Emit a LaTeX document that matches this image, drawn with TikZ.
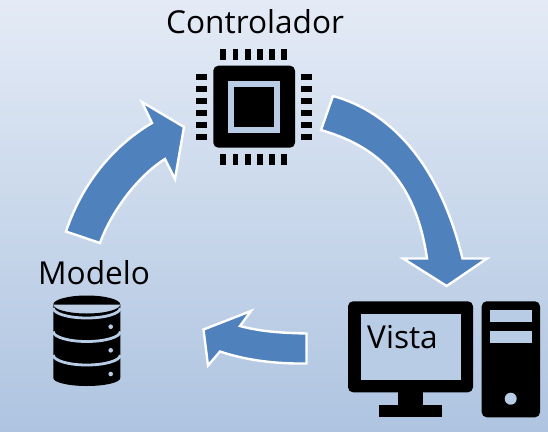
\documentclass[tikz,border=0pt]{standalone}
\usepackage{fontspec}
\setmainfont{Open Sans}
\definecolor{bgtop}{HTML}{E4EBF6}
\definecolor{bgbot}{HTML}{AEC4E0}
\definecolor{arrowblue}{HTML}{4F81BD}
\definecolor{gapc}{HTML}{B9CCE5}
\tikzset{
  bigarrow/.style={fill=arrowblue,draw=white,line width=2.4pt,line join=miter},
  lbl/.style={font=\fontsize{31.6}{38}\selectfont,text=black,inner sep=0pt,anchor=base west},
  blk/.style={fill=black,draw=none},
}
\begin{document}
\begin{tikzpicture}[x=1pt,y=-1pt]
\useasboundingbox (0,0) rectangle (548,431);
\shade[top color=bgtop,bottom color=bgbot,shading angle=0] (0,0) rectangle (548,431);
% arrows
\draw[bigarrow] (66,231.5) .. controls (84,178) and (118,143) .. (152,123) -- (142,102) -- (184,127) -- (175,179) -- (165,159) .. controls (135,178) and (110,215) .. (100,243) -- cycle;
\draw[bigarrow] (333,96) .. controls (392,112) and (440,166) .. (462.5,258.5) -- (487,258.5) -- (446.7,286) -- (403,258.5) -- (427,258.5) .. controls (415,175) and (372,145) .. (321,130) -- cycle;
\draw[bigarrow] (306.5,333.5) .. controls (285,333) and (262,332) .. (240,326) -- (251,311) -- (203.5,329.5) -- (208,365.5) -- (220,351.5) .. controls (245,360) and (275,364) .. (306.5,363.5) -- cycle;
% chip
\fill[blk,rounded corners=5pt] (213.3,65.7) rectangle (295,147.7);
\fill[gapc] (228.3,81) rectangle (280,132.7);
\fill[blk] (234,87.3) rectangle (274,126.7);
\foreach \p in {220.3,232.5,244.7,257,269,281.3}{
  \fill[blk] (\p,49.3) rectangle ++(5.9,10.7);
  \fill[blk] (\p,154) rectangle ++(5.9,10.7);
}
\foreach \p in {73.7,86,98,110,122.3,134.3}{
  \fill[blk] (196.3,\p) rectangle ++(10.7,5.9);
  \fill[blk] (301.3,\p) rectangle ++(10.7,5.9);
}
% monitor
\fill[blk,rounded corners=5pt] (348,301.3) rectangle (473,392.3);
\fill[gapc] (360.7,314) rectangle (460.7,380);
\fill[blk] (398.3,392) rectangle (423.3,405);
\fill[blk] (379.3,405) rectangle (442,417.3);
% tower
\fill[blk,rounded corners=5pt] (481.7,301.3) rectangle (540,417.3);
\fill[gapc] (489.7,309.7) rectangle (531.7,322.3);
\fill[gapc] (489.7,330.7) rectangle (531.7,343);
\fill[gapc] (510.7,398.7) circle (6);
% database
\fill[blk] (53.3,304.5) arc[start angle=180,end angle=0,x radius=33.5,y radius=9]
  -- (120.3,378) arc[start angle=0,end angle=180,x radius=33.5,y radius=8] -- cycle;
\fill[blk] (53.3,304.5) arc[start angle=180,end angle=360,x radius=33.5,y radius=9] -- cycle;
\foreach \q in {308,331.5,355}{
  \draw[gapc,line width=2.8pt] (53.3,\q) arc[start angle=180,end angle=0,x radius=33.5,y radius=10];
}
\foreach \q in {326.7,350.3,374}{ \fill[gapc] (110.7,\q) circle (2.3); }
% labels
\node[lbl] (controlador) at (166,33) {Controlador};
\node[lbl] (modelo) at (38,284) {Modelo};
\node[lbl] (vista) at (367,348) {Vista};
\end{tikzpicture}
\end{document}
